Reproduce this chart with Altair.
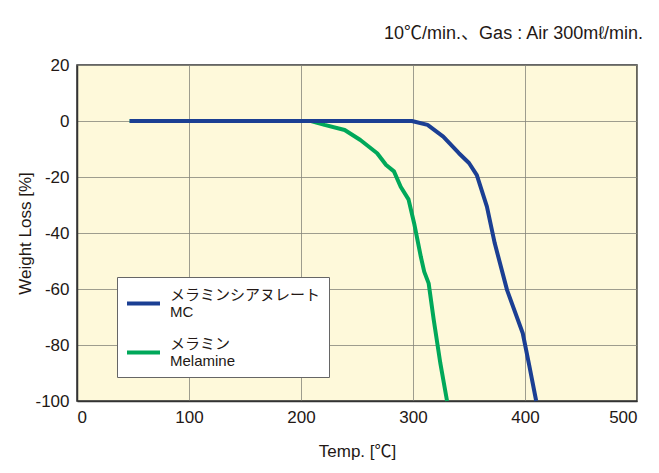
import altair as alt
import pandas as pd

# Series names (two-line legend labels, split on "|")
series_names = ["メラミンシアヌレート|MC", "メラミン|Melamine"]
series_colors = ["#1B3F93", "#00A85A"]

# Melamine cyanurate (MC)
mc_temp = [47, 299, 313, 327, 341, 350, 357, 366, 373, 384, 398, 404, 410]
mc_loss = [0, 0, -1.4, -5.6, -11.5, -15, -19.3, -30.6, -43.7, -60.4, -75.8, -87.7, -100]

# Melamine
mel_temp = [47, 209, 221, 239, 253, 268, 276, 283, 289, 296, 301, 307, 310, 314, 318.5, 324.4, 330.4]
mel_loss = [0, 0, -1.4, -3.2, -6.8, -11.5, -15.7, -18, -23.5, -28, -36.5, -48.5, -53.8, -58, -71, -86.5, -100]

x_ticks = [0, 100, 200, 300, 400, 500]
y_ticks = [20, 0, -20, -40, -60, -80, -100]

rows = []
# melamine first so that the MC line is drawn on top
for i, (t, w) in enumerate(zip(mel_temp, mel_loss)):
    rows.append({"series": series_names[1], "temp": t, "loss": w, "order": i})
for i, (t, w) in enumerate(zip(mc_temp, mc_loss)):
    rows.append({"series": series_names[0], "temp": t, "loss": w, "order": i})
df = pd.DataFrame(rows)

FONT = "Liberation Sans, Noto Sans CJK JP, sans-serif"
TXT = "#231815"

chart = alt.Chart(df).mark_line(strokeWidth=4, strokeJoin="round").encode(
    x=alt.X("temp:Q",
            scale=alt.Scale(domain=[0, 500], nice=False, zero=False),
            axis=alt.Axis(values=x_ticks, title="Temp. [℃]", labelExpr="'' + datum.value",
                          labelPadding=8, titlePadding=18, ticks=False)),
    y=alt.Y("loss:Q",
            scale=alt.Scale(domain=[-100, 20], nice=False, zero=False),
            axis=alt.Axis(values=y_ticks, title="Weight Loss [%]", labelExpr="'' + datum.value",
                          labelPadding=8, titlePadding=0, ticks=False)),
    color=alt.Color("series:N",
                    scale=alt.Scale(domain=series_names, range=series_colors),
                    legend=alt.Legend(orient="none", legendX=40, legendY=212, title=None,
                                      fillColor="white", strokeColor="#666666",
                                      padding=8, symbolType="stroke", symbolSize=1089,
                                      symbolStrokeWidth=4, labelFontSize=15, labelLimit=300,
                                      labelOffset=8, rowPadding=14, labelColor=TXT,
                                      labelFont=FONT, labelBaseline="line-bottom",
                                      labelExpr="split(datum.label, '|')")),
    order="order:Q",
).properties(
    width=560,
    height=336,
    background="white",
    title=alt.TitleParams("10℃/min.、Gas : Air 300mℓ/min.", anchor="end", fontSize=18,
                          fontWeight="normal", color=TXT, font=FONT, offset=13, dx=6),
    autosize=alt.AutoSizeParams(type="none"),
    padding={"left": 69, "top": 57, "right": 14, "bottom": 64},
).configure_view(
    fill="#FEF9DA", stroke="#333333", strokeWidth=1.5
).configure_axis(
    labelFont=FONT, titleFont=FONT, labelFontSize=17, titleFontSize=17,
    labelColor=TXT, titleColor=TXT, titleFontWeight="normal",
    gridColor="#85857a", gridWidth=0.8, gridOpacity=1,
    domainColor="#333333", domainWidth=1.5,
)

chart.save("out.html", embed_options={"renderer": "svg", "actions": False})
